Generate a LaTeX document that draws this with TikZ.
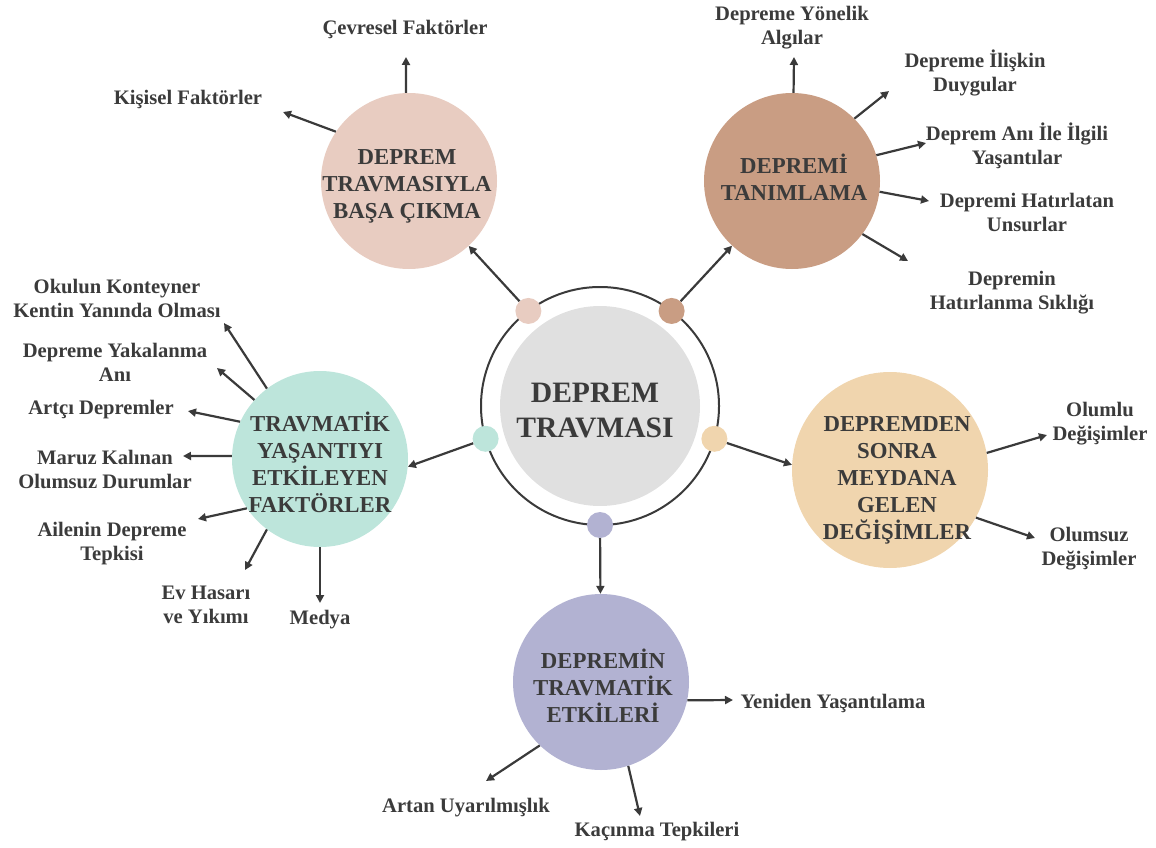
\documentclass[tikz,border=0pt]{standalone}
\usepackage{fontspec}
\setmainfont{Liberation Serif}
\usetikzlibrary{arrows.meta}
\definecolor{txt}{HTML}{3B3B3B}
\definecolor{ln}{HTML}{3A3A3A}
\definecolor{corec}{HTML}{E0E0E0}
\definecolor{pkc}{HTML}{E8CCC1}
\definecolor{brc}{HTML}{C99D83}
\definecolor{tlc}{HTML}{BDE5DB}
\definecolor{ylc}{HTML}{F0D5AE}
\definecolor{puc}{HTML}{B2B2D2}
\begin{document}
\begin{tikzpicture}[x=1pt,y=-1pt,
  every node/.style={text=txt},
  big/.style={circle,inner sep=0pt,minimum size=176pt},
  bigtxt/.style={align=center,inner sep=0pt,font=\fontsize{22.8}{27}\selectfont\bfseries},
  lab/.style={align=center,inner sep=1pt,yshift=-2.5pt,font=\fontsize{20.6}{24}\selectfont\bfseries},
  dot/.style={circle,inner sep=0pt,minimum size=26pt},
  arr/.style={ln,line width=2.2pt,-{Triangle[length=8pt,width=8pt]}}]
\useasboundingbox (0,0) rectangle (1156,848);
% centre
\node[circle,fill=corec,inner sep=0pt,minimum size=200pt] (core) at (600,406) {};
\node[align=center,font=\fontsize{29.6}{35}\selectfont\bfseries] (coretx) at (595,411) {DEPREM\\TRAVMASI};
\node[circle,draw=ln,line width=2pt,minimum size=238pt,outer sep=0pt] (ring) at (600,406) {};
\node[dot,fill=pkc] (d1) at (ring.127) {};
\node[dot,fill=brc] (d2) at (ring.53) {};
\node[dot,fill=tlc] (d3) at (ring.196) {};
\node[dot,fill=ylc] (d4) at (ring.-16) {};
\node[dot,fill=puc] (d5) at (ring.-90) {};
% satellites
\node[big,fill=pkc] (cope) at (409,181) {};
\node[big,fill=brc] (def) at (792,181) {};
\node[big,fill=tlc] (fac) at (320,459) {};
\node[big,fill=ylc,minimum size=196pt] (chg) at (890,470) {};
\node[big,fill=puc] (eff) at (601,682) {};
\node[bigtxt] (copetx) at (407,186) {DEPREM\\TRAVMASIYLA\\BAŞA ÇIKMA};
\node[bigtxt] (deftx) at (794,177) {DEPREMİ\\TANIMLAMA};
\node[bigtxt] (factx) at (320,462) {TRAVMATİK\\YAŞANTIYI\\ETKİLEYEN\\FAKTÖRLER};
\node[bigtxt] (chgtx) at (897,480) {DEPREMDEN\\SONRA\\MEYDANA\\GELEN\\DEĞİŞİMLER};
\node[bigtxt] (efftx) at (603,686) {DEPREMİN\\TRAVMATİK\\ETKİLERİ};
\draw[arr] (d1) -- (cope);
\draw[arr] (d2) -- (def);
\draw[arr] (d3) -- (fac.-5);
\draw[arr] (d4) -- (chg.177);
\draw[arr] (d5) -- (eff);
% labels
\node[lab] (cev) at (405,27) {Çevresel Faktörler};
\node[lab] (kis) at (188,97) {Kişisel Faktörler};
\node[lab] (alg) at (792,25) {Depreme Yönelik\\Algılar};
\node[lab] (duy) at (975,70) {Depreme İlişkin\\Duygular};
\node[lab] (yas) at (1017,143) {Deprem Anı İle İlgili\\Yaşantılar};
\node[lab] (uns) at (1027,210) {Depremi Hatırlatan\\Unsurlar};
\node[lab] (sik) at (1012,290) {Depremin\\Hatırlanma Sıklığı};
\node[lab] (oku) at (117,296) {Okulun Konteyner\\Kentin Yanında Olması};
\node[lab] (yak) at (115,360) {Depreme Yakalanma\\Anı};
\node[lab] (art) at (101,407) {Artçı Depremler};
\node[lab] (mar) at (105,467) {Maruz Kalınan\\Olumsuz Durumlar};
\node[lab] (ail) at (112,541) {Ailenin Depreme\\Tepkisi};
\node[lab] (ev) at (206,602) {Ev Hasarı\\ve Yıkımı};
\node[lab] (med) at (320,617) {Medya};
\node[lab] (olu) at (1100,421) {Olumlu\\Değişimler};
\node[lab] (ols) at (1089,546) {Olumsuz\\Değişimler};
\node[lab] (yen) at (833,701) {Yeniden Yaşantılama};
\node[lab] (uya) at (466,805) {Artan Uyarılmışlık};
\node[lab] (kac) at (657,829) {Kaçınma Tepkileri};
% arrow tips
\coordinate (tcev) at (406,57);
\coordinate (tkis) at (283,112);
\coordinate (talg) at (794,57);
\coordinate (tduy) at (889,91);
\coordinate (tyas) at (926,143);
\coordinate (tuns) at (929,201);
\coordinate (tsik) at (908,261);
\coordinate (toku) at (224,323);
\coordinate (tyak) at (217,368);
\coordinate (tart) at (188,411);
\coordinate (tmar) at (183,456);
\coordinate (tail) at (198,519);
\coordinate (tev) at (245,570);
\coordinate (tmed) at (320,603);
\coordinate (tolu) at (1047,435);
\coordinate (tols) at (1035,538);
\coordinate (tyen) at (733,700);
\coordinate (tuya) at (486,781);
\coordinate (tkac) at (640,816);
\draw[arr] (cope.92) -- (tcev);
\draw[arr] (cope.146) -- (tkis);
\draw[arr] (def.89) -- (talg);
\draw[arr] (def.45) -- (tduy);
\draw[arr] (def.17) -- (tyas);
\draw[arr] (def.-7) -- (tuns);
\draw[arr] (def.-37) -- (tsik);
\draw[arr] (fac.127) -- (toku);
\draw[arr] (fac.138) -- (tyak);
\draw[arr] (fac.155) -- (tart);
\draw[arr] (fac.178) -- (tmar);
\draw[arr] (fac.214) -- (tail);
\draw[arr] (fac.233) -- (tev);
\draw[arr] (fac.270) -- (tmed);
\draw[arr] (chg.10) -- (tolu);
\draw[arr] (chg.-29) -- (tols);
\draw[arr] (eff.-12) -- (tyen);
\draw[arr] (eff.226) -- (tuya);
\draw[arr] (eff.-72) -- (tkac);
\end{tikzpicture}
\end{document}
